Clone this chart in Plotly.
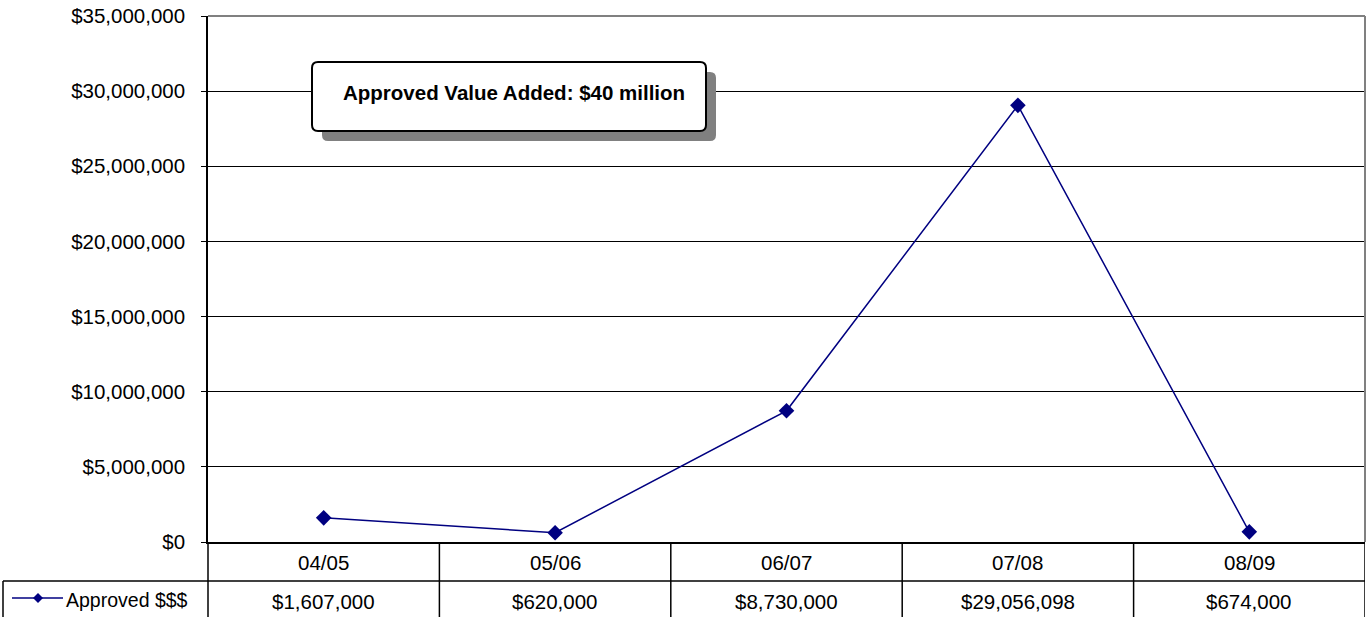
import plotly.graph_objects as go

categories = ["04/05", "05/06", "06/07", "07/08", "08/09"]
approved = [1607000, 620000, 8730000, 29056098, 674000]
value_labels = ["$1,607,000", "$620,000", "$8,730,000", "$29,056,098", "$674,000"]
series_name = "Approved $$$"
y_ticks = [0, 5e6, 10e6, 15e6, 20e6, 25e6, 30e6, 35e6]
y_tick_labels = ["$0", "$5,000,000", "$10,000,000", "$15,000,000", "$20,000,000",
                 "$25,000,000", "$30,000,000", "$35,000,000"]
callout_text = "<b>Approved Value Added: $40 million</b>"

W, H = 1369, 617
L, R, T, B = 208, 1365, 16, 542
navy = "#000080"
FONT = "Liberation Sans, Arial, sans-serif"
FS = 20.5


def px(x):
    return (x - L) / (R - L)


def py(y):
    return (B - y) / (B - T)


fig = go.Figure()
fig.add_trace(go.Scatter(
    x=list(range(len(categories))), y=approved, mode="lines+markers",
    line=dict(color=navy, width=1.5),
    marker=dict(symbol="diamond", size=12, color=navy),
    showlegend=False, hoverinfo="skip", cliponaxis=False))

shapes = []
# plot border top & right (gray)
shapes.append(dict(type="line", xref="paper", yref="paper", x0=0, x1=1, y0=1, y1=1,
                   line=dict(color="#808080", width=2)))
shapes.append(dict(type="line", xref="paper", yref="paper", x0=1, x1=1, y0=0, y1=1,
                   line=dict(color="#808080", width=2)))
# data table
row_mid = py(581)
row_bot = py(622)
shapes.append(dict(type="line", xref="paper", yref="paper", x0=px(3), x1=1, y0=row_mid, y1=row_mid,
                   line=dict(color="black", width=1.5)))
shapes.append(dict(type="line", xref="paper", yref="paper", x0=0, x1=0, y0=0, y1=row_bot,
                   line=dict(color="black", width=1.5)))
shapes.append(dict(type="line", xref="paper", yref="paper", x0=px(3), x1=px(3), y0=row_mid, y1=row_bot,
                   line=dict(color="black", width=1.5)))
for i in range(len(categories)):
    shapes.append(dict(type="line", xref="x", yref="paper", x0=i + 0.5, x1=i + 0.5, y0=0, y1=row_bot,
                       line=dict(color="black", width=1.5)))
# legend key in table
ky = py(598)
shapes.append(dict(type="line", xref="paper", yref="paper", x0=px(12), x1=px(63), y0=ky, y1=ky,
                   line=dict(color=navy, width=1.5)))
cx, cy, d = 38, 598, 5
shapes.append(dict(type="path", xref="paper", yref="paper",
                   path=f"M {px(cx-d)} {py(cy)} L {px(cx)} {py(cy-d)} L {px(cx+d)} {py(cy)} L {px(cx)} {py(cy+d)} Z",
                   fillcolor=navy, line=dict(color=navy, width=0)))


def rounded(x0, y0, x1, y1, r):
    return (f"M {px(x0+r)} {py(y0)} L {px(x1-r)} {py(y0)} Q {px(x1)} {py(y0)} {px(x1)} {py(y0+r)} "
            f"L {px(x1)} {py(y1-r)} Q {px(x1)} {py(y1)} {px(x1-r)} {py(y1)} "
            f"L {px(x0+r)} {py(y1)} Q {px(x0)} {py(y1)} {px(x0)} {py(y1-r)} "
            f"L {px(x0)} {py(y0+r)} Q {px(x0)} {py(y0)} {px(x0+r)} {py(y0)} Z")


# callout shadow and box
shapes.append(dict(type="path", xref="paper", yref="paper", path=rounded(322, 72, 716, 141, 6),
                   fillcolor="#808080", line=dict(width=0), layer="above"))
shapes.append(dict(type="path", xref="paper", yref="paper", path=rounded(312, 62, 706, 131, 6),
                   fillcolor="white", line=dict(color="black", width=2), layer="above"))

annotations = []
for i, c in enumerate(categories):
    annotations.append(dict(x=i, y=py(562), xref="x", yref="paper", text=c, showarrow=False,
                            font=dict(family=FONT, size=FS, color="black"), xanchor="center", yanchor="middle"))
    annotations.append(dict(x=i, y=py(601), xref="x", yref="paper", text=value_labels[i], showarrow=False,
                            font=dict(family=FONT, size=FS, color="black"), xanchor="center", yanchor="middle"))
annotations.append(dict(x=px(64), y=py(600), xref="paper", yref="paper", text=series_name, showarrow=False,
                        font=dict(family=FONT, size=FS - 1, color="black"), xanchor="left", yanchor="middle"))
annotations.append(dict(x=px(514), y=py(93), xref="paper", yref="paper", text=callout_text, showarrow=False,
                        font=dict(family=FONT, size=FS, color="black"), xanchor="center", yanchor="middle"))

fig.update_layout(
    width=W, height=H, autosize=False,
    margin=dict(l=L, r=W - R, t=T, b=H - B),
    paper_bgcolor="white", plot_bgcolor="white",
    shapes=shapes, annotations=annotations,
    xaxis=dict(range=[-0.5, len(categories) - 0.5], showticklabels=False, showgrid=False,
               zeroline=False, showline=True, linecolor="black", linewidth=1.5, ticks=""),
    yaxis=dict(range=[0, 35e6], tickvals=y_ticks, ticktext=y_tick_labels,
               showgrid=True, gridcolor="black", gridwidth=1, zeroline=False,
               showline=True, linecolor="black", linewidth=1.5, ticks="outside", ticklen=5,
               tickcolor="black", ticklabelstandoff=12,
               tickfont=dict(family=FONT, size=FS, color="black")),
)

fig.write_html("out.html", config={"displayModeBar": False},
               post_script="document.body.style.margin='0';document.body.style.overflow='hidden';")
